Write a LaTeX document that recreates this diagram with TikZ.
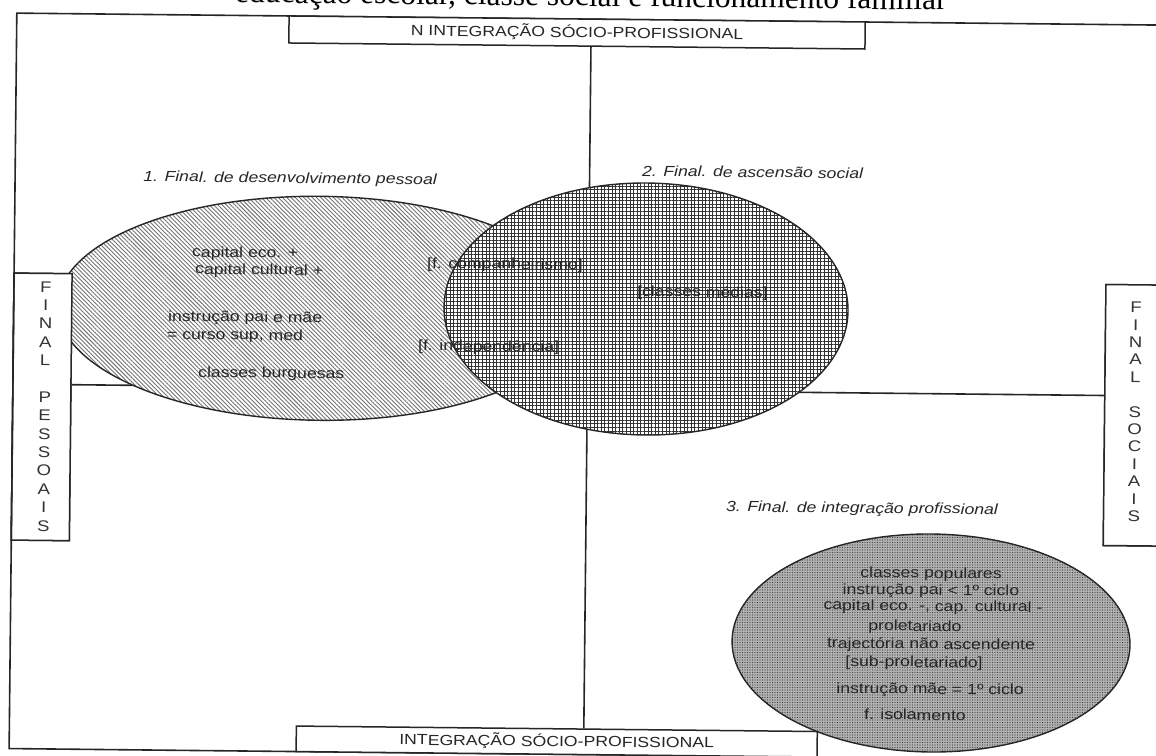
\documentclass[tikz,border=0pt]{standalone}
\usepackage{fontspec}
\setmainfont{Liberation Serif}
\newfontfamily\diagsans[FakeStretch=1.2]{Liberation Sans}
\usetikzlibrary{patterns.meta,shapes.geometric}

\tikzset{
  frameline/.style={draw=black!85, line width=1.6pt},
  panel/.style={draw=black!85, line width=1.5pt, fill=white, inner sep=0pt},
  blob/.style={ellipse, draw=black!85, line width=1.4pt, inner sep=0pt},
  txt/.style={font=\diagsans\fontsize{14.7}{16}\selectfont, text=black!85, inner sep=0pt},
  vtxt/.style={font=\diagsans\fontsize{15.5}{18.4}\selectfont, text=black!80, inner sep=0pt, align=center},
  ltxt/.style={txt, font=\diagsans\itshape\fontsize{14.7}{16}\selectfont},
}

\begin{document}
\begin{tikzpicture}[x=1pt, y=-1pt]
\useasboundingbox (0,0) rectangle (1156,755);
\clip (0,0) rectangle (1156,755);
\begin{scope}[rotate around={-0.6:(578,378)}, transform shape]

% heading
\node[anchor=base, font=\fontsize{31.5}{34}\selectfont, inner sep=0pt] (title) at (587,6)
  {educação escolar, classe social e funcionamento familiar};

% outer frame
\draw[frameline] (13,19) rectangle (1163,754.5);

% axes
\coordinate (mid) at (587.5,390);

% side and end panels (placed first so the axes can be drawn from them)
\node[panel, minimum width=576.2pt, minimum height=27pt] (topbox) at (573.4,32.5) {};
\node[panel, minimum width=521pt, minimum height=25.5pt] (botbox) at (560.5,741.75) {};
\node[panel, minimum width=58pt, minimum height=267pt] (leftbox) at (42,412.5) {};
\node[panel, minimum width=58pt, minimum height=261pt] (rightbox) at (1134,409.5) {};

\draw[frameline] (topbox.south -| mid) -- (botbox.north -| mid);
\draw[frameline] (leftbox.east |- mid) -- (rightbox.west |- mid);

% the three finalities
\node[blob, minimum width=524pt, minimum height=224pt,
      preaction={fill=white},
      pattern={Lines[angle=-45, distance=3pt, line width=0.9pt]}, pattern color=black!55]
      (e1) at (319,311) {};
\node[blob, minimum width=404pt, minimum height=252pt,
      preaction={fill=white},
      pattern={Hatch[angle=0, distance=3.6pt, line width=0.8pt]}, pattern color=black!80]
      (e2) at (645.3,308.3) {};
\node[blob, minimum width=398pt, minimum height=218pt,
      preaction={fill=black!30},
      pattern={Dots[distance=2.5pt, radius=0.55pt]}, pattern color=black!75]
      (e3) at (933.8,639.3) {};

% panels drawn again over the shapes
\node[panel, minimum width=58pt, minimum height=267pt] at (leftbox) {};
\node[panel, minimum width=58pt, minimum height=261pt] at (rightbox) {};
\draw[frameline] (13,279) -- (13,546);

% panel texts
\node[txt] (toptxt) at (topbox) {N INTEGRAÇÃO SÓCIO-PROFISSIONAL};
\node[txt] (bottxt) at (botbox) {INTEGRAÇÃO SÓCIO-PROFISSIONAL};
\node[vtxt] (lefttxt) at (45,412) {F\\I\\N\\A\\L\\[18.4pt]P\\E\\S\\S\\O\\A\\I\\S};
\node[vtxt, font=\diagsans\fontsize{15.5}{17.4}\selectfont] (righttxt) at (1135.3,406)
  {F\\I\\N\\A\\L\\[17.4pt]S\\O\\C\\I\\A\\I\\S};

% headings of the finalities
\node[ltxt, anchor=base] (l1) at (288,186) {1. Final. de desenvolvimento pessoal};
\node[ltxt, anchor=base west] (l2) at (639.8,175.5) {2. Final. de ascensão social};
\node[ltxt, anchor=base] (l3) at (863.4,510) {3. Final. de integração profissional};

% contents of finality 1
\node[txt, anchor=base west] (a1) at (190.7,261) {capital eco. +};
\node[txt, anchor=base west] (a2) at (193.9,278) {capital cultural +};
\node[txt, anchor=base west] (a3) at (167.4,325.3) {instrução pai e mãe};
\node[txt, anchor=base west] (a4) at (166.5,343.3) {= curso sup, med};
\node[txt, anchor=base west] (a5) at (198,381) {classes burguesas};
\node[txt, anchor=base west] (a6) at (425.8,269.6) {[f. companheirismo]};
\node[txt, anchor=base west] (a7) at (417.7,352.2) {[f. independência]};

% contents of finality 2
\node[txt, anchor=base] (b1) at (701.6,295.7) {[classes médias]};

% contents of finality 3
\node[txt, anchor=base] (c1) at (933.1,574.3) {classes populares};
\node[txt, anchor=base] (c2) at (933.2,591.3) {instrução pai < 1º ciclo};
\node[txt, anchor=base] (c3) at (935.4,607.3) {capital eco. -, cap. cultural -};
\node[txt, anchor=base] (c4) at (917.6,627.5) {proletariado};
\node[txt, anchor=base] (c5) at (933.8,645.3) {trajectória não ascendente};
\node[txt, anchor=base] (c6) at (917,663.5) {[sub-proletariado]};
\node[txt, anchor=base] (c7) at (933.3,690.3) {instrução mãe = 1º ciclo};
\node[txt, anchor=base] (c8) at (918.5,716.5) {f. isolamento};

\end{scope}
\end{tikzpicture}
\end{document}
